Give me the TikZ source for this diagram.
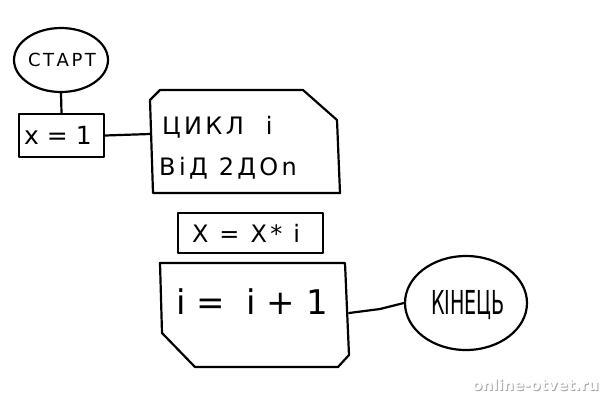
\documentclass[tikz,border=0pt]{standalone}
\usepackage{fontspec}
\setmainfont{DejaVu Sans}
\usetikzlibrary{shapes.geometric}
\begin{document}
\begin{tikzpicture}[x=1pt,y=-1pt,
  ln/.style={line width=2.2pt, line join=round, line cap=round},
  lbl/.style={font=\fontsize{#1}{#1}\selectfont\addfontfeature{LetterSpace=14}, inner sep=0pt},
  lbl/.default=18,
  tight/.style={font=\fontsize{#1}{#1}\selectfont, inner sep=0pt}]
\useasboundingbox[fill=white] (0,0) rectangle (611,400);
% start
\node[ln, draw, ellipse, minimum width=94pt, minimum height=64pt, inner sep=0pt] (start) at (61,60) {};
\node[lbl=18] (starttext) at (62,60) {СТАРТ};
% x = 1
\node[ln, draw, rectangle, minimum width=85pt, minimum height=43pt, inner sep=0pt] (x1) at (61.5,135.5) {};
\node[tight=25] (x1text) at (58,135) {x = 1};
% loop shape
\coordinate (lA) at (150,100);
\coordinate (lB) at (160,90);
\coordinate (lC) at (303,90);
\coordinate (lD) at (337,120);
\coordinate (lE) at (340,193);
\coordinate (lF) at (153,193);
\draw[ln] (lA) -- (lB) -- (lC) -- (lD) -- (lE) -- (lF) -- cycle;
\coordinate (loopin) at (150,134);
\node[lbl=24, anchor=west] (loop1) at (162,127) {ЦИКЛ \ і};
\node[lbl=24, anchor=west] (loop2) at (159,168) {ВіД 2ДОn};
% x = x*i
\node[ln, draw, rectangle, minimum width=145pt, minimum height=40pt, inner sep=0pt] (xx) at (250.5,233) {};
\node[lbl=24] (xxtext) at (246,233) {X = X* i};
% i = i + 1 shape
\coordinate (iA) at (160,263);
\coordinate (iB) at (345,263);
\coordinate (iC) at (349,355);
\coordinate (iD) at (338,367);
\coordinate (iE) at (195,367);
\coordinate (iF) at (162,333);
\draw[ln] (iA) -- (iB) -- (iC) -- (iD) -- (iE) -- (iF) -- cycle;
\coordinate (iout) at (349,313);
\node[tight=34] (itext) at (252,302) {i = \ i + 1};
% end
\node[ln, draw, ellipse, minimum width=122pt, minimum height=94pt, inner sep=0pt] (endn) at (466,303) {};
\node[font=\fontsize{33}{33}\selectfont, inner sep=0pt, xscale=0.58] (endtext) at (468,305) {КІНЕЦЬ};
% connectors
\draw[ln] (start.south) -- (x1.north);
\draw[ln] (x1.east) -- (loopin);
\draw[ln] (iout) -- (380,309) -- (endn.west);
% watermark
\node[inner sep=0pt, font=\bfseries\fontsize{15}{15}\selectfont, text=black!35] (wm0) at (536.5,386) {online-otvet.ru};
\node[inner sep=0pt, font=\bfseries\fontsize{15}{15}\selectfont, text=white] (wm) at (535.5,385) {online-otvet.ru};
\end{tikzpicture}
\end{document}
